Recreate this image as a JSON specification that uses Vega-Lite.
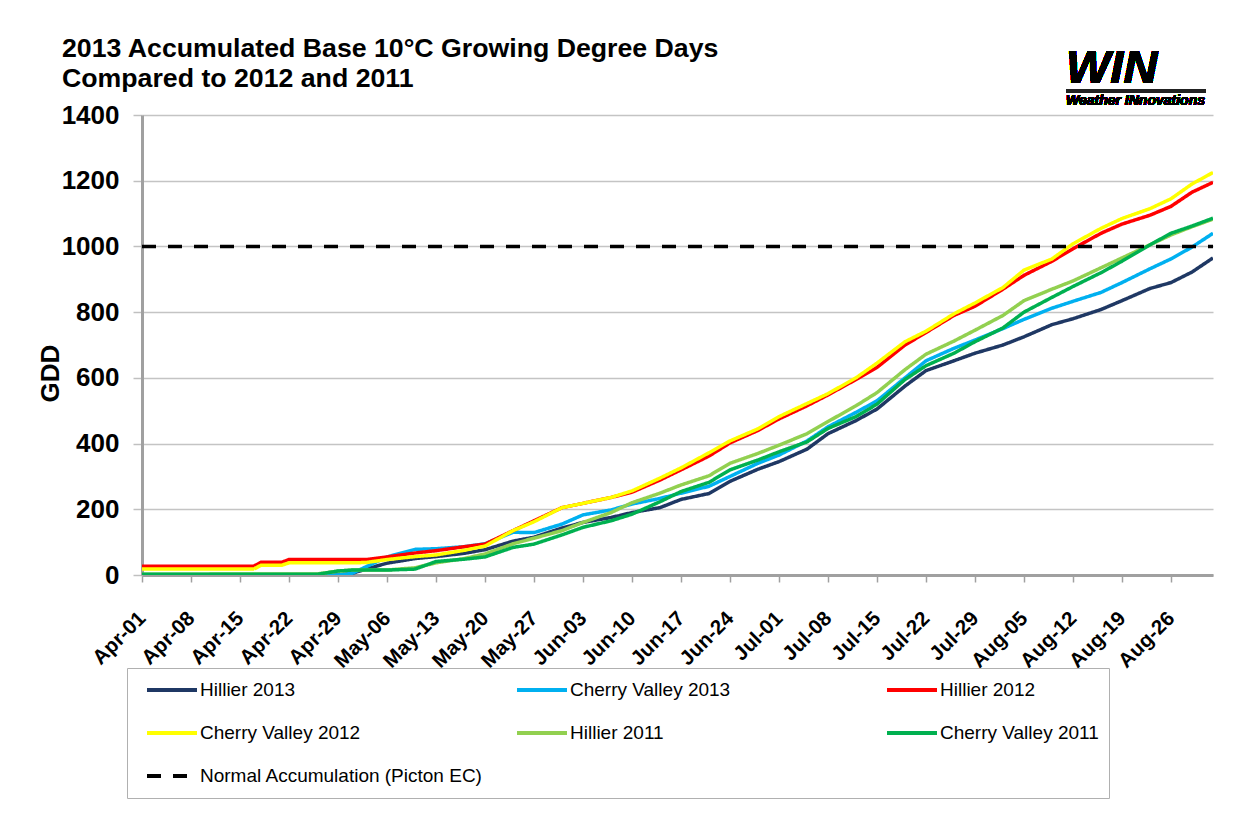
{
"$schema":"https://vega.github.io/schema/vega-lite/v6.json",
"width":1071,"height":460,
"autosize":{"type":"none"},
"padding":{"left":142,"top":115,"right":22,"bottom":245},
"background":"white",
"title":{"text":["2013 Accumulated Base 10°C Growing Degree Days","Compared to 2012 and 2011"],"anchor":"start","frame":"group","dx":-80,"dy":60,"offset":12,"fontSize":26.7,"fontWeight":"bold","font":"Liberation Sans","lineHeight":30,"color":"#000"},
"config":{"view":{"stroke":null},"font":"Liberation Sans","axis":{"labelFont":"Liberation Sans","titleFont":"Liberation Sans"},
"legend":{"orient":"none","legendX":-15,"legendY":553,"columns":3,"direction":"horizontal","gridAlign":"all","symbolType":"stroke","symbolSize":2500,"symbolStrokeWidth":4,"labelFont":"Liberation Sans","labelFontSize":19,"labelColor":"#000","clipHeight":24,"rowPadding":19,"columnPadding":24,"padding":10,"strokeColor":"#b0b0b0","fillColor":"white","symbolOffset":8,"labelOffset":1,"labelLimit":400,"title":null}},
"data":{"values":[
{"series":"Hillier 2013","date":"2013-04-01","gdd":0},{"series":"Hillier 2013","date":"2013-04-05","gdd":0},{"series":"Hillier 2013","date":"2013-04-08","gdd":0},{"series":"Hillier 2013","date":"2013-04-12","gdd":0},{"series":"Hillier 2013","date":"2013-04-15","gdd":0},{"series":"Hillier 2013","date":"2013-04-17","gdd":0},{"series":"Hillier 2013","date":"2013-04-18","gdd":0},{"series":"Hillier 2013","date":"2013-04-21","gdd":0},{"series":"Hillier 2013","date":"2013-04-22","gdd":0},{"series":"Hillier 2013","date":"2013-04-26","gdd":0},{"series":"Hillier 2013","date":"2013-04-29","gdd":0},{"series":"Hillier 2013","date":"2013-05-01","gdd":5},{"series":"Hillier 2013","date":"2013-05-03","gdd":18},{"series":"Hillier 2013","date":"2013-05-06","gdd":36},{"series":"Hillier 2013","date":"2013-05-10","gdd":50},{"series":"Hillier 2013","date":"2013-05-13","gdd":56},{"series":"Hillier 2013","date":"2013-05-17","gdd":66},{"series":"Hillier 2013","date":"2013-05-20","gdd":77},{"series":"Hillier 2013","date":"2013-05-24","gdd":103},{"series":"Hillier 2013","date":"2013-05-27","gdd":115},{"series":"Hillier 2013","date":"2013-05-31","gdd":143},{"series":"Hillier 2013","date":"2013-06-03","gdd":160},{"series":"Hillier 2013","date":"2013-06-07","gdd":175},{"series":"Hillier 2013","date":"2013-06-10","gdd":190},{"series":"Hillier 2013","date":"2013-06-14","gdd":205},{"series":"Hillier 2013","date":"2013-06-17","gdd":230},{"series":"Hillier 2013","date":"2013-06-21","gdd":248},{"series":"Hillier 2013","date":"2013-06-24","gdd":285},{"series":"Hillier 2013","date":"2013-06-28","gdd":322},{"series":"Hillier 2013","date":"2013-07-01","gdd":345},{"series":"Hillier 2013","date":"2013-07-05","gdd":383},{"series":"Hillier 2013","date":"2013-07-08","gdd":430},{"series":"Hillier 2013","date":"2013-07-12","gdd":470},{"series":"Hillier 2013","date":"2013-07-15","gdd":505},{"series":"Hillier 2013","date":"2013-07-19","gdd":575},{"series":"Hillier 2013","date":"2013-07-22","gdd":622},{"series":"Hillier 2013","date":"2013-07-26","gdd":652},{"series":"Hillier 2013","date":"2013-07-29","gdd":675},{"series":"Hillier 2013","date":"2013-08-02","gdd":700},{"series":"Hillier 2013","date":"2013-08-05","gdd":725},{"series":"Hillier 2013","date":"2013-08-09","gdd":762},{"series":"Hillier 2013","date":"2013-08-12","gdd":780},{"series":"Hillier 2013","date":"2013-08-16","gdd":808},{"series":"Hillier 2013","date":"2013-08-19","gdd":835},{"series":"Hillier 2013","date":"2013-08-23","gdd":872},{"series":"Hillier 2013","date":"2013-08-26","gdd":890},{"series":"Hillier 2013","date":"2013-08-29","gdd":922},{"series":"Hillier 2013","date":"2013-09-01","gdd":965},
{"series":"Cherry Valley 2013","date":"2013-04-01","gdd":0},{"series":"Cherry Valley 2013","date":"2013-04-05","gdd":0},{"series":"Cherry Valley 2013","date":"2013-04-08","gdd":0},{"series":"Cherry Valley 2013","date":"2013-04-12","gdd":0},{"series":"Cherry Valley 2013","date":"2013-04-15","gdd":0},{"series":"Cherry Valley 2013","date":"2013-04-17","gdd":0},{"series":"Cherry Valley 2013","date":"2013-04-18","gdd":0},{"series":"Cherry Valley 2013","date":"2013-04-21","gdd":0},{"series":"Cherry Valley 2013","date":"2013-04-22","gdd":0},{"series":"Cherry Valley 2013","date":"2013-04-26","gdd":0},{"series":"Cherry Valley 2013","date":"2013-04-29","gdd":0},{"series":"Cherry Valley 2013","date":"2013-05-01","gdd":5},{"series":"Cherry Valley 2013","date":"2013-05-03","gdd":25},{"series":"Cherry Valley 2013","date":"2013-05-06","gdd":55},{"series":"Cherry Valley 2013","date":"2013-05-10","gdd":78},{"series":"Cherry Valley 2013","date":"2013-05-13","gdd":80},{"series":"Cherry Valley 2013","date":"2013-05-17","gdd":86},{"series":"Cherry Valley 2013","date":"2013-05-20","gdd":95},{"series":"Cherry Valley 2013","date":"2013-05-24","gdd":130},{"series":"Cherry Valley 2013","date":"2013-05-27","gdd":129},{"series":"Cherry Valley 2013","date":"2013-05-31","gdd":155},{"series":"Cherry Valley 2013","date":"2013-06-03","gdd":183},{"series":"Cherry Valley 2013","date":"2013-06-07","gdd":198},{"series":"Cherry Valley 2013","date":"2013-06-10","gdd":216},{"series":"Cherry Valley 2013","date":"2013-06-14","gdd":233},{"series":"Cherry Valley 2013","date":"2013-06-17","gdd":249},{"series":"Cherry Valley 2013","date":"2013-06-21","gdd":270},{"series":"Cherry Valley 2013","date":"2013-06-24","gdd":300},{"series":"Cherry Valley 2013","date":"2013-06-28","gdd":340},{"series":"Cherry Valley 2013","date":"2013-07-01","gdd":365},{"series":"Cherry Valley 2013","date":"2013-07-05","gdd":408},{"series":"Cherry Valley 2013","date":"2013-07-08","gdd":451},{"series":"Cherry Valley 2013","date":"2013-07-12","gdd":495},{"series":"Cherry Valley 2013","date":"2013-07-15","gdd":530},{"series":"Cherry Valley 2013","date":"2013-07-19","gdd":600},{"series":"Cherry Valley 2013","date":"2013-07-22","gdd":652},{"series":"Cherry Valley 2013","date":"2013-07-26","gdd":690},{"series":"Cherry Valley 2013","date":"2013-07-29","gdd":715},{"series":"Cherry Valley 2013","date":"2013-08-02","gdd":750},{"series":"Cherry Valley 2013","date":"2013-08-05","gdd":778},{"series":"Cherry Valley 2013","date":"2013-08-09","gdd":812},{"series":"Cherry Valley 2013","date":"2013-08-12","gdd":833},{"series":"Cherry Valley 2013","date":"2013-08-16","gdd":860},{"series":"Cherry Valley 2013","date":"2013-08-19","gdd":890},{"series":"Cherry Valley 2013","date":"2013-08-23","gdd":932},{"series":"Cherry Valley 2013","date":"2013-08-26","gdd":962},{"series":"Cherry Valley 2013","date":"2013-08-29","gdd":998},{"series":"Cherry Valley 2013","date":"2013-09-01","gdd":1040},
{"series":"Hillier 2012","date":"2013-04-01","gdd":27},{"series":"Hillier 2012","date":"2013-04-05","gdd":27},{"series":"Hillier 2012","date":"2013-04-08","gdd":27},{"series":"Hillier 2012","date":"2013-04-12","gdd":27},{"series":"Hillier 2012","date":"2013-04-15","gdd":27},{"series":"Hillier 2012","date":"2013-04-17","gdd":27},{"series":"Hillier 2012","date":"2013-04-18","gdd":39},{"series":"Hillier 2012","date":"2013-04-21","gdd":39},{"series":"Hillier 2012","date":"2013-04-22","gdd":47},{"series":"Hillier 2012","date":"2013-04-26","gdd":47},{"series":"Hillier 2012","date":"2013-04-29","gdd":47},{"series":"Hillier 2012","date":"2013-05-01","gdd":47},{"series":"Hillier 2012","date":"2013-05-03","gdd":47},{"series":"Hillier 2012","date":"2013-05-06","gdd":55},{"series":"Hillier 2012","date":"2013-05-10","gdd":67},{"series":"Hillier 2012","date":"2013-05-13","gdd":74},{"series":"Hillier 2012","date":"2013-05-17","gdd":86},{"series":"Hillier 2012","date":"2013-05-20","gdd":94},{"series":"Hillier 2012","date":"2013-05-24","gdd":135},{"series":"Hillier 2012","date":"2013-05-27","gdd":165},{"series":"Hillier 2012","date":"2013-05-31","gdd":205},{"series":"Hillier 2012","date":"2013-06-03","gdd":218},{"series":"Hillier 2012","date":"2013-06-07","gdd":236},{"series":"Hillier 2012","date":"2013-06-10","gdd":252},{"series":"Hillier 2012","date":"2013-06-14","gdd":289},{"series":"Hillier 2012","date":"2013-06-17","gdd":320},{"series":"Hillier 2012","date":"2013-06-21","gdd":362},{"series":"Hillier 2012","date":"2013-06-24","gdd":402},{"series":"Hillier 2012","date":"2013-06-28","gdd":440},{"series":"Hillier 2012","date":"2013-07-01","gdd":475},{"series":"Hillier 2012","date":"2013-07-05","gdd":515},{"series":"Hillier 2012","date":"2013-07-08","gdd":548},{"series":"Hillier 2012","date":"2013-07-12","gdd":595},{"series":"Hillier 2012","date":"2013-07-15","gdd":632},{"series":"Hillier 2012","date":"2013-07-19","gdd":700},{"series":"Hillier 2012","date":"2013-07-22","gdd":738},{"series":"Hillier 2012","date":"2013-07-26","gdd":790},{"series":"Hillier 2012","date":"2013-07-29","gdd":818},{"series":"Hillier 2012","date":"2013-08-02","gdd":870},{"series":"Hillier 2012","date":"2013-08-05","gdd":912},{"series":"Hillier 2012","date":"2013-08-09","gdd":955},{"series":"Hillier 2012","date":"2013-08-12","gdd":993},{"series":"Hillier 2012","date":"2013-08-16","gdd":1040},{"series":"Hillier 2012","date":"2013-08-19","gdd":1068},{"series":"Hillier 2012","date":"2013-08-23","gdd":1095},{"series":"Hillier 2012","date":"2013-08-26","gdd":1122},{"series":"Hillier 2012","date":"2013-08-29","gdd":1165},{"series":"Hillier 2012","date":"2013-09-01","gdd":1195},
{"series":"Cherry Valley 2012","date":"2013-04-01","gdd":18},{"series":"Cherry Valley 2012","date":"2013-04-05","gdd":18},{"series":"Cherry Valley 2012","date":"2013-04-08","gdd":18},{"series":"Cherry Valley 2012","date":"2013-04-12","gdd":18},{"series":"Cherry Valley 2012","date":"2013-04-15","gdd":18},{"series":"Cherry Valley 2012","date":"2013-04-17","gdd":18},{"series":"Cherry Valley 2012","date":"2013-04-18","gdd":30},{"series":"Cherry Valley 2012","date":"2013-04-21","gdd":30},{"series":"Cherry Valley 2012","date":"2013-04-22","gdd":37},{"series":"Cherry Valley 2012","date":"2013-04-26","gdd":37},{"series":"Cherry Valley 2012","date":"2013-04-29","gdd":37},{"series":"Cherry Valley 2012","date":"2013-05-01","gdd":37},{"series":"Cherry Valley 2012","date":"2013-05-03","gdd":38},{"series":"Cherry Valley 2012","date":"2013-05-06","gdd":47},{"series":"Cherry Valley 2012","date":"2013-05-10","gdd":56},{"series":"Cherry Valley 2012","date":"2013-05-13","gdd":61},{"series":"Cherry Valley 2012","date":"2013-05-17","gdd":75},{"series":"Cherry Valley 2012","date":"2013-05-20","gdd":88},{"series":"Cherry Valley 2012","date":"2013-05-24","gdd":135},{"series":"Cherry Valley 2012","date":"2013-05-27","gdd":162},{"series":"Cherry Valley 2012","date":"2013-05-31","gdd":205},{"series":"Cherry Valley 2012","date":"2013-06-03","gdd":218},{"series":"Cherry Valley 2012","date":"2013-06-07","gdd":236},{"series":"Cherry Valley 2012","date":"2013-06-10","gdd":256},{"series":"Cherry Valley 2012","date":"2013-06-14","gdd":295},{"series":"Cherry Valley 2012","date":"2013-06-17","gdd":326},{"series":"Cherry Valley 2012","date":"2013-06-21","gdd":372},{"series":"Cherry Valley 2012","date":"2013-06-24","gdd":408},{"series":"Cherry Valley 2012","date":"2013-06-28","gdd":445},{"series":"Cherry Valley 2012","date":"2013-07-01","gdd":482},{"series":"Cherry Valley 2012","date":"2013-07-05","gdd":522},{"series":"Cherry Valley 2012","date":"2013-07-08","gdd":552},{"series":"Cherry Valley 2012","date":"2013-07-12","gdd":600},{"series":"Cherry Valley 2012","date":"2013-07-15","gdd":645},{"series":"Cherry Valley 2012","date":"2013-07-19","gdd":710},{"series":"Cherry Valley 2012","date":"2013-07-22","gdd":742},{"series":"Cherry Valley 2012","date":"2013-07-26","gdd":795},{"series":"Cherry Valley 2012","date":"2013-07-29","gdd":828},{"series":"Cherry Valley 2012","date":"2013-08-02","gdd":875},{"series":"Cherry Valley 2012","date":"2013-08-05","gdd":928},{"series":"Cherry Valley 2012","date":"2013-08-09","gdd":962},{"series":"Cherry Valley 2012","date":"2013-08-12","gdd":1008},{"series":"Cherry Valley 2012","date":"2013-08-16","gdd":1055},{"series":"Cherry Valley 2012","date":"2013-08-19","gdd":1085},{"series":"Cherry Valley 2012","date":"2013-08-23","gdd":1115},{"series":"Cherry Valley 2012","date":"2013-08-26","gdd":1145},{"series":"Cherry Valley 2012","date":"2013-08-29","gdd":1190},{"series":"Cherry Valley 2012","date":"2013-09-01","gdd":1225},
{"series":"Hillier 2011","date":"2013-04-01","gdd":2},{"series":"Hillier 2011","date":"2013-04-05","gdd":2},{"series":"Hillier 2011","date":"2013-04-08","gdd":2},{"series":"Hillier 2011","date":"2013-04-12","gdd":3},{"series":"Hillier 2011","date":"2013-04-15","gdd":3},{"series":"Hillier 2011","date":"2013-04-17","gdd":3},{"series":"Hillier 2011","date":"2013-04-18","gdd":3},{"series":"Hillier 2011","date":"2013-04-21","gdd":3},{"series":"Hillier 2011","date":"2013-04-22","gdd":3},{"series":"Hillier 2011","date":"2013-04-26","gdd":3},{"series":"Hillier 2011","date":"2013-04-29","gdd":12},{"series":"Hillier 2011","date":"2013-05-01","gdd":15},{"series":"Hillier 2011","date":"2013-05-03","gdd":15},{"series":"Hillier 2011","date":"2013-05-06","gdd":15},{"series":"Hillier 2011","date":"2013-05-10","gdd":22},{"series":"Hillier 2011","date":"2013-05-13","gdd":37},{"series":"Hillier 2011","date":"2013-05-17","gdd":50},{"series":"Hillier 2011","date":"2013-05-20","gdd":64},{"series":"Hillier 2011","date":"2013-05-24","gdd":95},{"series":"Hillier 2011","date":"2013-05-27","gdd":112},{"series":"Hillier 2011","date":"2013-05-31","gdd":135},{"series":"Hillier 2011","date":"2013-06-03","gdd":160},{"series":"Hillier 2011","date":"2013-06-07","gdd":190},{"series":"Hillier 2011","date":"2013-06-10","gdd":220},{"series":"Hillier 2011","date":"2013-06-14","gdd":249},{"series":"Hillier 2011","date":"2013-06-17","gdd":274},{"series":"Hillier 2011","date":"2013-06-21","gdd":302},{"series":"Hillier 2011","date":"2013-06-24","gdd":340},{"series":"Hillier 2011","date":"2013-06-28","gdd":370},{"series":"Hillier 2011","date":"2013-07-01","gdd":395},{"series":"Hillier 2011","date":"2013-07-05","gdd":430},{"series":"Hillier 2011","date":"2013-07-08","gdd":467},{"series":"Hillier 2011","date":"2013-07-12","gdd":515},{"series":"Hillier 2011","date":"2013-07-15","gdd":555},{"series":"Hillier 2011","date":"2013-07-19","gdd":625},{"series":"Hillier 2011","date":"2013-07-22","gdd":672},{"series":"Hillier 2011","date":"2013-07-26","gdd":712},{"series":"Hillier 2011","date":"2013-07-29","gdd":745},{"series":"Hillier 2011","date":"2013-08-02","gdd":790},{"series":"Hillier 2011","date":"2013-08-05","gdd":835},{"series":"Hillier 2011","date":"2013-08-09","gdd":870},{"series":"Hillier 2011","date":"2013-08-12","gdd":895},{"series":"Hillier 2011","date":"2013-08-16","gdd":935},{"series":"Hillier 2011","date":"2013-08-19","gdd":965},{"series":"Hillier 2011","date":"2013-08-23","gdd":1005},{"series":"Hillier 2011","date":"2013-08-26","gdd":1035},{"series":"Hillier 2011","date":"2013-08-29","gdd":1060},{"series":"Hillier 2011","date":"2013-09-01","gdd":1083},
{"series":"Cherry Valley 2011","date":"2013-04-01","gdd":2},{"series":"Cherry Valley 2011","date":"2013-04-05","gdd":2},{"series":"Cherry Valley 2011","date":"2013-04-08","gdd":2},{"series":"Cherry Valley 2011","date":"2013-04-12","gdd":2},{"series":"Cherry Valley 2011","date":"2013-04-15","gdd":2},{"series":"Cherry Valley 2011","date":"2013-04-17","gdd":2},{"series":"Cherry Valley 2011","date":"2013-04-18","gdd":2},{"series":"Cherry Valley 2011","date":"2013-04-21","gdd":2},{"series":"Cherry Valley 2011","date":"2013-04-22","gdd":2},{"series":"Cherry Valley 2011","date":"2013-04-26","gdd":2},{"series":"Cherry Valley 2011","date":"2013-04-29","gdd":12},{"series":"Cherry Valley 2011","date":"2013-05-01","gdd":15},{"series":"Cherry Valley 2011","date":"2013-05-03","gdd":15},{"series":"Cherry Valley 2011","date":"2013-05-06","gdd":15},{"series":"Cherry Valley 2011","date":"2013-05-10","gdd":18},{"series":"Cherry Valley 2011","date":"2013-05-13","gdd":41},{"series":"Cherry Valley 2011","date":"2013-05-17","gdd":48},{"series":"Cherry Valley 2011","date":"2013-05-20","gdd":55},{"series":"Cherry Valley 2011","date":"2013-05-24","gdd":84},{"series":"Cherry Valley 2011","date":"2013-05-27","gdd":94},{"series":"Cherry Valley 2011","date":"2013-05-31","gdd":122},{"series":"Cherry Valley 2011","date":"2013-06-03","gdd":145},{"series":"Cherry Valley 2011","date":"2013-06-07","gdd":165},{"series":"Cherry Valley 2011","date":"2013-06-10","gdd":185},{"series":"Cherry Valley 2011","date":"2013-06-14","gdd":223},{"series":"Cherry Valley 2011","date":"2013-06-17","gdd":254},{"series":"Cherry Valley 2011","date":"2013-06-21","gdd":282},{"series":"Cherry Valley 2011","date":"2013-06-24","gdd":320},{"series":"Cherry Valley 2011","date":"2013-06-28","gdd":350},{"series":"Cherry Valley 2011","date":"2013-07-01","gdd":375},{"series":"Cherry Valley 2011","date":"2013-07-05","gdd":405},{"series":"Cherry Valley 2011","date":"2013-07-08","gdd":446},{"series":"Cherry Valley 2011","date":"2013-07-12","gdd":482},{"series":"Cherry Valley 2011","date":"2013-07-15","gdd":520},{"series":"Cherry Valley 2011","date":"2013-07-19","gdd":595},{"series":"Cherry Valley 2011","date":"2013-07-22","gdd":637},{"series":"Cherry Valley 2011","date":"2013-07-26","gdd":675},{"series":"Cherry Valley 2011","date":"2013-07-29","gdd":710},{"series":"Cherry Valley 2011","date":"2013-08-02","gdd":752},{"series":"Cherry Valley 2011","date":"2013-08-05","gdd":800},{"series":"Cherry Valley 2011","date":"2013-08-09","gdd":845},{"series":"Cherry Valley 2011","date":"2013-08-12","gdd":878},{"series":"Cherry Valley 2011","date":"2013-08-16","gdd":920},{"series":"Cherry Valley 2011","date":"2013-08-19","gdd":955},{"series":"Cherry Valley 2011","date":"2013-08-23","gdd":1005},{"series":"Cherry Valley 2011","date":"2013-08-26","gdd":1040},{"series":"Cherry Valley 2011","date":"2013-08-29","gdd":1062},{"series":"Cherry Valley 2011","date":"2013-09-01","gdd":1086},
{"series":"Normal Accumulation (Picton EC)","date":"2013-04-01","gdd":1000},{"series":"Normal Accumulation (Picton EC)","date":"2013-09-01","gdd":1000}
]},
"layer":[
{"mark":{"type":"line","strokeWidth":3.5,"clip":true},
"encoding":{
"x":{"field":"date","type":"temporal","scale":{"type":"utc","domain":[{"year":2013,"month":4,"date":1,"utc":true},{"year":2013,"month":9,"date":1,"utc":true}]},
"axis":{"values":[{"year":2013,"month":4,"date":1,"utc":true},{"year":2013,"month":4,"date":8,"utc":true},{"year":2013,"month":4,"date":15,"utc":true},{"year":2013,"month":4,"date":22,"utc":true},{"year":2013,"month":4,"date":29,"utc":true},{"year":2013,"month":5,"date":6,"utc":true},{"year":2013,"month":5,"date":13,"utc":true},{"year":2013,"month":5,"date":20,"utc":true},{"year":2013,"month":5,"date":27,"utc":true},{"year":2013,"month":6,"date":3,"utc":true},{"year":2013,"month":6,"date":10,"utc":true},{"year":2013,"month":6,"date":17,"utc":true},{"year":2013,"month":6,"date":24,"utc":true},{"year":2013,"month":7,"date":1,"utc":true},{"year":2013,"month":7,"date":8,"utc":true},{"year":2013,"month":7,"date":15,"utc":true},{"year":2013,"month":7,"date":22,"utc":true},{"year":2013,"month":7,"date":29,"utc":true},{"year":2013,"month":8,"date":5,"utc":true},{"year":2013,"month":8,"date":12,"utc":true},{"year":2013,"month":8,"date":19,"utc":true},{"year":2013,"month":8,"date":26,"utc":true}],
"format":"%b-%d","labelAngle":-45,"labelAlign":"right","labelBaseline":"middle","labelFontSize":20.5,"labelFontWeight":"bold","labelColor":"#000","labelPadding":33,"labelOverlap":false,"labelBound":false,"labelFlush":false,"tickSize":7,"tickColor":"#a0a0a0","tickWidth":1.5,"domainColor":"#a0a0a0","domainWidth":3,"grid":false,"title":null}},
"y":{"field":"gdd","type":"quantitative","scale":{"domain":[0,1400],"nice":false},
"axis":{"values":[0,200,400,600,800,1000,1200,1400],"format":"d","labelFontSize":26,"labelFontWeight":"bold","labelColor":"#000","labelPadding":14,"tickSize":9,"tickColor":"#c0c0c0","tickWidth":1.5,"grid":true,"gridColor":"#c4c4c4","gridWidth":1.5,"domainColor":"#a0a0a0","domainWidth":3,"title":"GDD","titleFontSize":26,"titleFontWeight":"bold","titleColor":"#000","titleX":-84,"titleY":258,"titleBaseline":"alphabetic","titleAlign":"center","titleAngle":270}},
"color":{"field":"series","type":"nominal","scale":{"domain":["Hillier 2013","Cherry Valley 2013","Hillier 2012","Cherry Valley 2012","Hillier 2011","Cherry Valley 2011","Normal Accumulation (Picton EC)"],"range":["#1f3864","#00b0f0","#ff0000","#ffff00","#92d050","#00b050","#000000"]},"legend":{"title":null}},
"strokeDash":{"field":"series","type":"nominal","scale":{"domain":["Hillier 2013","Cherry Valley 2013","Hillier 2012","Cherry Valley 2012","Hillier 2011","Cherry Valley 2011","Normal Accumulation (Picton EC)"],"range":[[1,0],[1,0],[1,0],[1,0],[1,0],[1,0],[14,12]]},"legend":{"title":null}}
}},
{"mark":{"type":"text","text":"WIN","font":"Liberation Sans","fontSize":47,"fontWeight":"bold","fontStyle":"italic","align":"left","baseline":"alphabetic","clip":false,"color":"#000"},
"encoding":{"x":{"datum":{"year":2013,"month":8,"date":11,"utc":true},"type":"temporal"},"y":{"datum":1497,"type":"quantitative"}}},
{"mark":{"type":"rule","strokeWidth":3,"color":"#222","clip":false},
"encoding":{"x":{"datum":{"year":2013,"month":8,"date":11,"utc":true},"type":"temporal"},"x2":{"datum":{"year":2013,"month":8,"date":31,"utc":true}},"y":{"datum":1474,"type":"quantitative"}}},
{"mark":{"type":"text","text":"Weather INnovations","font":"Liberation Sans","fontSize":14,"fontWeight":"bold","fontStyle":"italic","align":"left","baseline":"alphabetic","clip":false,"color":"#000"},
"encoding":{"x":{"datum":{"year":2013,"month":8,"date":11,"utc":true},"type":"temporal"},"y":{"datum":1430,"type":"quantitative"}}}
]
}
